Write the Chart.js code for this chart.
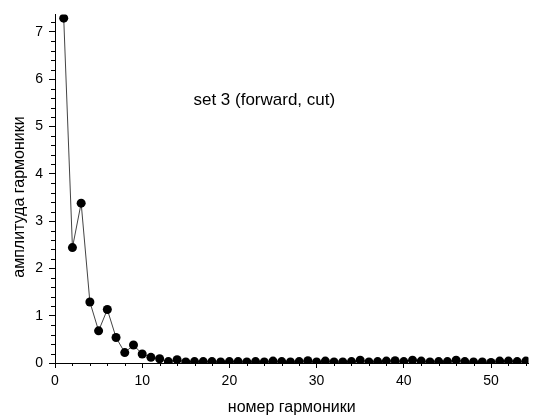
<!DOCTYPE html>
<html>
<head>
<meta charset="utf-8">
<script src="https://cdn.jsdelivr.net/npm/chart.js@4.4.1/dist/chart.umd.min.js"></script>
<style>
  html, body { margin: 0; padding: 0; background: #fff; }
  #wrap { width: 533px; height: 418px; position: relative; }
</style>
</head>
<body>
<div id="wrap"><canvas id="harmChart"></canvas></div>
<script>
// harmonic number and amplitude
const harmonics = [
  1, 2, 3, 4, 5, 6, 7, 8, 9, 10,
  11, 12, 13, 14, 15, 16, 17, 18, 19, 20,
  21, 22, 23, 24, 25, 26, 27, 28, 29, 30,
  31, 32, 33, 34, 35, 36, 37, 38, 39, 40,
  41, 42, 43, 44, 45, 46, 47, 48, 49, 50,
  51, 52, 53, 54
];
const amplitudes = [
  7.29, 2.44, 3.38, 1.29, 0.68, 1.13, 0.54, 0.22, 0.38, 0.19,
  0.12, 0.09, 0.03, 0.07, 0.02, 0.03, 0.03, 0.03, 0.02, 0.03,
  0.03, 0.02, 0.03, 0.02, 0.04, 0.03, 0.02, 0.03, 0.05, 0.02,
  0.04, 0.02, 0.02, 0.03, 0.06, 0.02, 0.03, 0.04, 0.05, 0.03,
  0.06, 0.04, 0.02, 0.03, 0.03, 0.06, 0.03, 0.02, 0.02, 0.01,
  0.04, 0.04, 0.03, 0.04
];
const xMajorTicks = [0, 10, 20, 30, 40, 50];
const yMajorTicks = [0, 1, 2, 3, 4, 5, 6, 7];
const chartTitle = 'set 3 (forward, cut)';
const xTitle = 'номер гармоники';
const yTitle = 'амплитуда гармоники';

const FONT = 'Arial, "Liberation Sans", sans-serif';

// minor ticks, y title and the in-plot label
const extrasPlugin = {
  id: 'extras',
  afterDraw(chart) {
    const { ctx, scales: { x, y } } = chart;
    ctx.save();
    ctx.strokeStyle = '#000';
    ctx.lineWidth = 1;
    ctx.beginPath();
    for (let v = 2; v <= x.max; v += 2) {
      if (v % 10 === 0) continue;
      const px = Math.round(x.getPixelForValue(v)) + 0.5;
      ctx.moveTo(px, y.bottom);
      ctx.lineTo(px, y.bottom + 3);
    }
    for (let i = 1; i * 0.2 <= y.max; i++) {
      if (i % 5 === 0) continue;
      const py = Math.round(y.getPixelForValue(i * 0.2)) + 0.5;
      ctx.moveTo(x.left, py);
      ctx.lineTo(x.left - 4, py);
    }
    ctx.stroke();

    ctx.fillStyle = '#000';
    ctx.textAlign = 'center';
    ctx.textBaseline = 'middle';
    ctx.font = '17px ' + FONT;
    ctx.fillText(chartTitle, x.getPixelForValue(24), y.getPixelForValue(5.55));

    ctx.font = '16px ' + FONT;
    ctx.translate(20, 197);
    ctx.rotate(-Math.PI / 2);
    ctx.fillText(yTitle, 0, 0);
    ctx.restore();
  }
};

new Chart(document.getElementById('harmChart'), {
  type: 'scatter',
  data: {
    datasets: [{
      data: harmonics.map((h, i) => ({ x: h, y: amplitudes[i] })),
      showLine: true,
      borderColor: '#444',
      borderWidth: 1,
      backgroundColor: '#000',
      pointBackgroundColor: '#000',
      pointBorderColor: '#000',
      pointRadius: 4.5,
      pointBorderWidth: 0,
    }],
  },
  options: {
    responsive: true,
    maintainAspectRatio: false,
    animation: false,
    events: [],
    layout: { padding: { top: 10, right: 0, left: 0, bottom: 0 } },
    plugins: { legend: { display: false }, tooltip: { enabled: false } },
    scales: {
      x: {
        type: 'linear',
        min: 0,
        max: 54.3,
        afterBuildTicks: s => { s.ticks = xMajorTicks.map(v => ({ value: v })); },
        afterFit: s => { s.height = 55; },
        grid: { display: true, drawOnChartArea: false, drawTicks: true, tickLength: 5, color: '#000' },
        border: { display: true, color: '#000', width: 1 },
        ticks: { color: '#000', font: { size: 14, family: FONT }, padding: 5, autoSkip: false, maxRotation: 0 },
        title: { display: true, text: xTitle, color: '#000', font: { size: 16, family: FONT }, padding: { top: 0, bottom: 1 } },
      },
      y: {
        min: 0,
        max: 7.37,
        afterBuildTicks: s => { s.ticks = yMajorTicks.map(v => ({ value: v })); },
        afterFit: s => { s.width = 55; },
        grid: { display: true, drawOnChartArea: false, drawTicks: true, tickLength: 6, color: '#000' },
        border: { display: true, color: '#000', width: 1 },
        ticks: { color: '#000', font: { size: 14, family: FONT }, padding: 6, autoSkip: false },
        title: { display: false },
      },
    },
  },
  plugins: [extrasPlugin],
});
</script>
</body>
</html>
